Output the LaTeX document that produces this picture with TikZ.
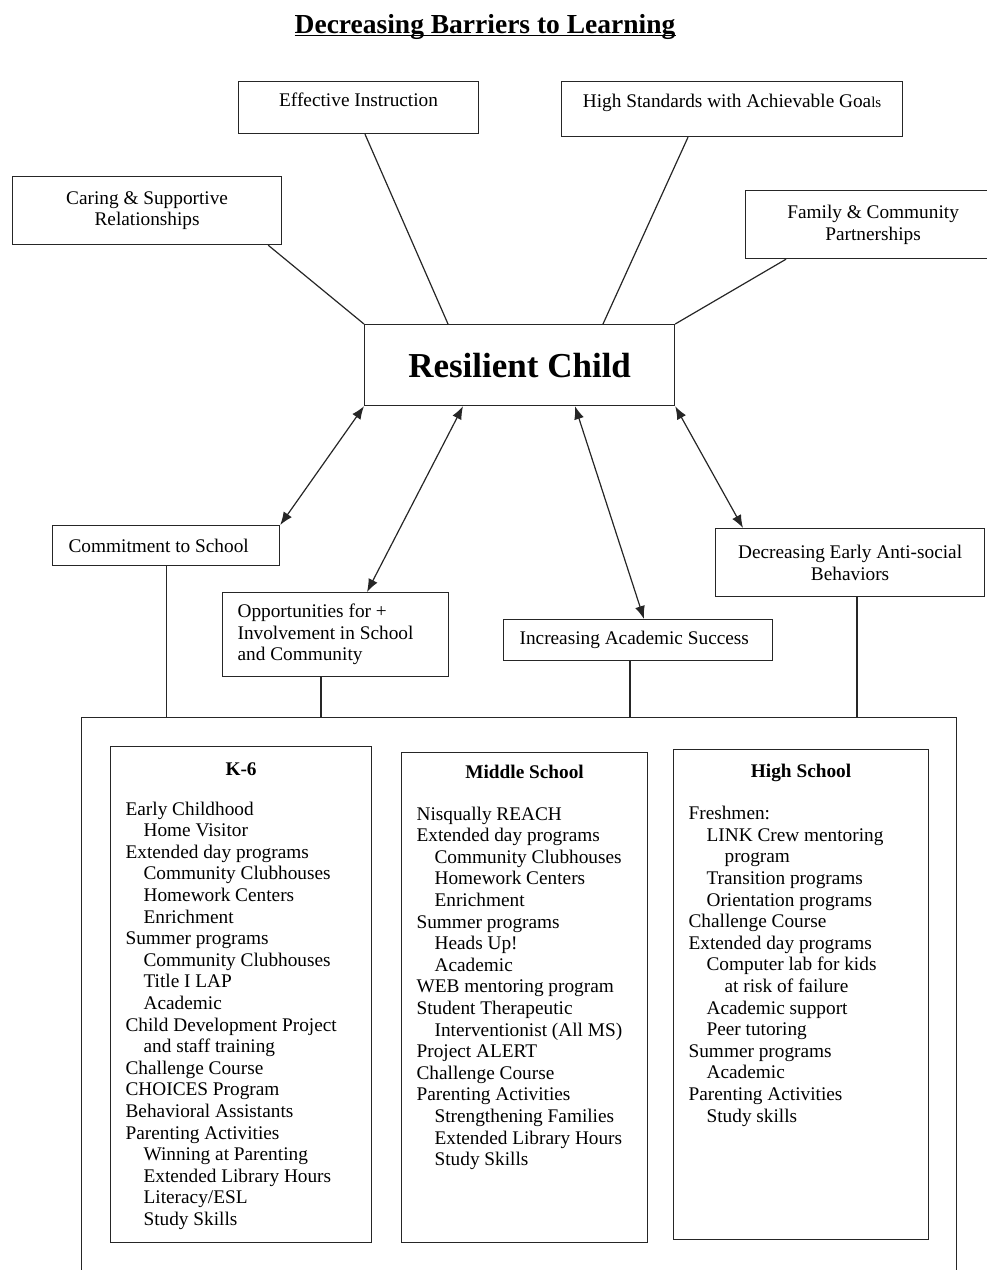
\documentclass[tikz,border=0pt]{standalone}
\usepackage{fontspec}
\setmainfont{Liberation Serif}
\usetikzlibrary{arrows.meta}
\newcommand{\bodysize}{\fontsize{19.3}{21.6}\selectfont}
\newcommand{\ind}{\hspace*{18pt}}

\begin{document}
\begin{tikzpicture}[x=1pt,y=-1pt,>={Latex[length=13pt,width=10pt]},
  box/.style={draw=black!85,line width=1.2pt,rectangle,inner sep=0pt,
    anchor=north west,font=\bodysize},
  conn/.style={draw=black!85,line width=1.2pt}]
  \useasboundingbox (0,0) rectangle (987,1270);
  \clip (0,0) rectangle (987,1270);
  % Tittel
  \node[anchor=base,inner sep=0pt,font=\fontsize{27.5}{30}\selectfont\bfseries]
    (title) at (485,33) {Decreasing Barriers to Learning};
  \draw[line width=1.5pt] ([yshift=-2.5pt]title.base west) -- ([yshift=-2.5pt]title.base east);
  % Faktorer over
  \node[box,minimum width=240,text height=24.5pt,text depth=27.5pt] (eff) at (238,81) {Effective Instruction};
  \node[box,minimum width=341,text height=25.5pt,text depth=29.5pt] (hs) at (561,81)
    {High Standards with Achievable Goa{\fontsize{15}{15}\selectfont ls}};
  \node[box,minimum width=269,minimum height=68,align=center] (car) at (12,176) {Caring \& Supportive\\Relationships};
  \node[box,minimum width=255,minimum height=68,align=center] (fam) at (745,190) {Family \& Community\\Partnerships};
  % Midten
  \node[box,minimum width=310,minimum height=81,font=\fontsize{35}{40}\selectfont\bfseries] (rc) at (364,324) {Resilient Child};
  \draw[conn] ([xshift=-14pt]car.south east) -- (rc.north west);
  \draw[conn] ([xshift=127pt]eff.south west) -- ([xshift=84pt]rc.north west);
  \draw[conn] ([xshift=127pt]hs.south west) -- ([xshift=239pt]rc.north west);
  \draw[conn] ([xshift=41pt]fam.south west) -- (rc.north east);
  % Resultater under
  \node[box,minimum height=40,text width=195pt,inner xsep=16pt,align=flush left] (com) at (52,525) {Commitment to School};
  \node[box,minimum height=84,text width=196pt,inner xsep=15pt,align=flush left] (opp) at (222,592)
    {Opportunities for +\\Involvement in School\\and Community};
  \node[box,minimum height=41,text width=237pt,inner xsep=16pt,align=flush left] (inc) at (503,619) {Increasing Academic Success};
  \node[box,minimum width=269,minimum height=68,align=center] (dec) at (715,528) {Decreasing Early Anti-social\\Behaviors};
  \draw[conn,<->] (rc.south west) -- (com.north east);
  \draw[conn,<->] ([xshift=99pt]rc.south west) -- ([xshift=145pt]opp.north west);
  \draw[conn,<->] ([xshift=211pt]rc.south west) -- ([xshift=141pt]inc.north west);
  \draw[conn,<->] (rc.south east) -- ([xshift=28pt]dec.north west);
  % Skoleprogram
  \node[box,minimum width=875,minimum height=580] (sch) at (81,717) {};
  \draw[conn] (com.south) -- (com.south |- sch.north);
  \draw[conn] ([xshift=99pt]opp.south west) -- ([xshift=99pt]opp.south west |- sch.north);
  \draw[conn] ([xshift=127pt]inc.south west) -- ([xshift=127pt]inc.south west |- sch.north);
  \draw[conn] ([xshift=142pt]dec.south west) -- ([xshift=142pt]dec.south west |- sch.north);
  \node[box,inner xsep=15pt] (k6) at (110,746) {\parbox[c][496pt][t]{231pt}{\vspace*{13.3pt}%
    \centering\textbf{K-6}\strut\par\vspace{18.5pt}\raggedright
    Early Childhood\\\ind Home Visitor\\Extended day programs\\\ind Community Clubhouses\\
    \ind Homework Centers\\\ind Enrichment\\Summer programs\\\ind Community Clubhouses\\
    \ind Title I LAP\\\ind Academic\\Child Development Project\\\ind and staff training\\
    Challenge Course\\CHOICES Program\\Behavioral Assistants\\Parenting Activities\\
    \ind Winning at Parenting\\\ind Extended Library Hours\\\ind Literacy/ESL\\\ind Study Skills}};
  \node[box,inner xsep=15pt] (ms) at (401,752) {\parbox[c][490pt][t]{216pt}{\vspace*{10.3pt}%
    \centering\textbf{Middle School}\strut\par\vspace{20.4pt}\raggedright
    Nisqually REACH\\Extended day programs\\\ind Community Clubhouses\\\ind Homework Centers\\
    \ind Enrichment\\Summer programs\\\ind Heads Up!\\\ind Academic\\WEB mentoring program\\
    Student Therapeutic\\\ind Interventionist (All MS)\\Project ALERT\\Challenge Course\\
    Parenting Activities\\\ind Strengthening Families\\\ind Extended Library Hours\\\ind Study Skills}};
  \node[box,inner xsep=15pt] (hsc) at (673,749) {\parbox[c][490pt][t]{225pt}{\vspace*{12.3pt}%
    \centering\textbf{High School}\strut\par\vspace{21pt}\raggedright
    Freshmen:\\\ind LINK Crew mentoring\\\ind\ind program\\\ind Transition programs\\
    \ind Orientation programs\\Challenge Course\\Extended day programs\\\ind Computer lab for kids\\
    \ind\ind at risk of failure\\\ind Academic support\\\ind Peer tutoring\\Summer programs\\
    \ind Academic\\Parenting Activities\\\ind Study skills}};
\end{tikzpicture}
\end{document}
